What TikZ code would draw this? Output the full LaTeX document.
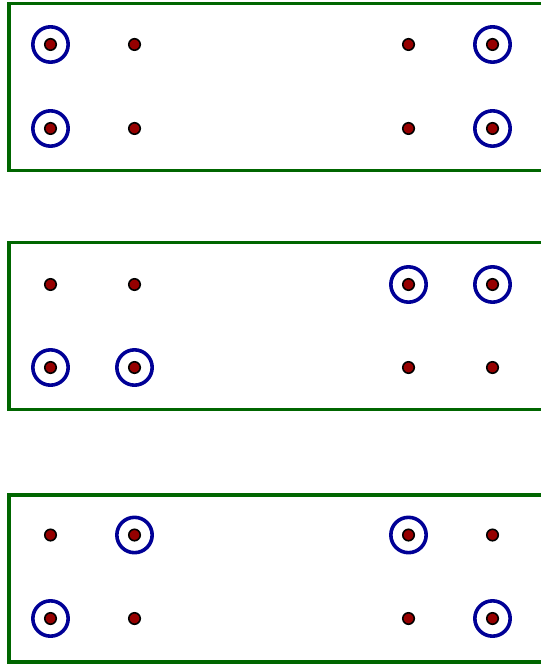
\documentclass[tikz,border=0pt]{standalone}
\usepackage{xcolor}
\usepackage{tikz}
\usetikzlibrary{positioning}
\definecolor{panelgreen}{RGB}{0,102,0}
\definecolor{ringblue}{RGB}{0,0,150}
\definecolor{dotred}{RGB}{150,0,0}
\tikzset{
  panel/.style ={draw=panelgreen, line width=2.8pt},
  site/.style  ={circle, draw=black, fill=dotred, line width=1.2pt,
                 inner sep=0pt, minimum size=8.6pt},
  ring/.style  ={circle, draw=ringblue, line width=2.7pt,
                 inner sep=0pt, minimum size=26.5pt},
}
\begin{document}
\begin{tikzpicture}[x=0.75pt,y=-0.75pt]
\useasboundingbox (0,0) rectangle (541,666);
\clip (0,0) rectangle (541,666);
% three panels, open to the right
\draw[panel] (9,3.5) rectangle (560,170.5);
\draw[panel] (9,242.5) rectangle (560,409.5);
\draw[panel] (9,495) rectangle (560,662);
% sites: panel p, row r, column c
\foreach \p/\ya/\yb in {a/44.5/128.5, b/284.5/367.5, c/535/618.5}{
  \foreach \c/\x in {1/50.5, 2/134.5, 3/408.5, 4/492.5}{
    \node[site] (\p1\c) at (\x,\ya) {};
    \node[site] (\p2\c) at (\x,\yb) {};
  }
}
% rings, top panel
\node[ring] (ra11) at (a11) {};
\node[ring] (ra14) at (a14) {};
\node[ring] (ra21) at (a21) {};
\node[ring] (ra24) at (a24) {};
% rings, middle panel
\node[ring] (rb13) at (b13) {};
\node[ring] (rb14) at (b14) {};
\node[ring] (rb21) at (b21) {};
\node[ring] (rb22) at (b22) {};
% rings, bottom panel
\node[ring] (rc12) at (c12) {};
\node[ring] (rc13) at (c13) {};
\node[ring] (rc21) at (c21) {};
\node[ring] (rc24) at (c24) {};
\end{tikzpicture}
\end{document}
